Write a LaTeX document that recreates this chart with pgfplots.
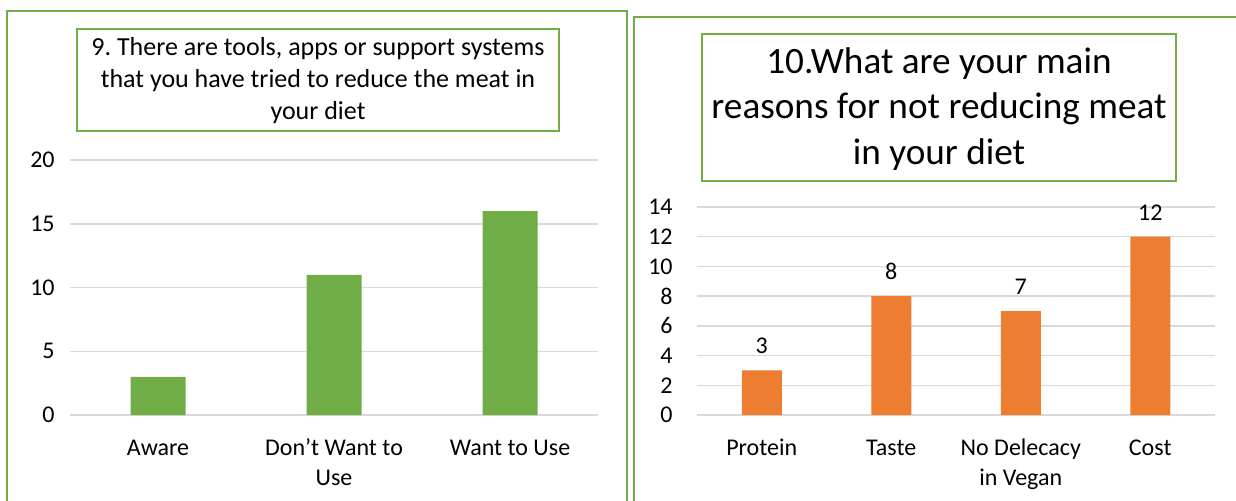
\documentclass[border=0pt]{standalone}
\usepackage{pgfplots}
\pgfplotsset{compat=1.18}
\usepackage{fontspec}
\setmainfont{Carlito}
\frenchspacing
\definecolor{cgreen}{HTML}{70AD47}
\definecolor{corange}{HTML}{ED7D31}
\definecolor{cgrid}{HTML}{D9D9D9}
\begin{document}
\begin{tikzpicture}
\useasboundingbox (0,0) rectangle (618pt,250pt);
\clip (0,0) rectangle (618pt,250pt);
% panel borders
\draw[cgreen, line width=1.2pt] (3.5pt,-10pt) rectangle (313.5pt,244.5pt);
\draw[cgreen, line width=1.2pt] (317pt,-10pt) rectangle (630pt,241.5pt);
% left chart
\begin{axis}[
  at={(35pt,42.5pt)}, anchor=south west,
  scale only axis, width=264pt, height=127.5pt,
  xmin=-0.5, xmax=2.5, ymin=0, ymax=20,
  ytick={0,5,10,15,20},
  xtick={0,1,2},
  xticklabels={\strut Aware, \strut Don’t Want to\\\strut Use, \strut Want to Use},
  axis line style={draw=none},
  ymajorgrids, major grid style={cgrid, line width=0.75pt},
  major tick length=0pt,
  /pgf/number format/assume math mode=true,
  yticklabel style={anchor=east, inner sep=0pt, xshift=-7.5pt, font=\fontsize{12}{15}\selectfont},
  xticklabel style={anchor=north, inner sep=0pt, yshift=-9.4pt, align=center, font=\fontsize{12}{15}\selectfont},
  clip=false,
]
\addplot[ybar, bar width=27.5pt, fill=cgreen, draw=none] coordinates {(0,3) (1,11) (2,16)};
\end{axis}
% right chart
\begin{axis}[
  at={(348.5pt,42.5pt)}, anchor=south west,
  scale only axis, width=259pt, height=104pt,
  xmin=-0.5, xmax=3.5, ymin=0, ymax=14,
  ytick={0,2,...,14},
  xtick={0,1,2,3},
  xticklabels={\strut Protein, \strut Taste, \strut No Delecacy\\\strut in Vegan, \strut Cost},
  axis line style={draw=none},
  ymajorgrids, major grid style={cgrid, line width=0.75pt},
  major tick length=0pt,
  /pgf/number format/assume math mode=true,
  yticklabel style={anchor=east, inner sep=0pt, xshift=-12pt, font=\fontsize{12}{15}\selectfont},
  xticklabel style={anchor=north, inner sep=0pt, yshift=-9.4pt, align=center, font=\fontsize{12}{15}\selectfont},
  nodes near coords,
  nodes near coords style={anchor=south, inner sep=0pt, yshift=8pt, font=\fontsize{12}{15}\selectfont, /pgf/number format/assume math mode=true},
  clip=false,
]
\addplot[ybar, bar width=20pt, fill=corange, draw=none] coordinates {(0,3) (1,8) (2,7) (3,12)};
\end{axis}
% titles
\draw[cgreen, line width=1.2pt] (38.5pt,235.5pt) rectangle (279.5pt,184.5pt);
\node[align=center, font=\fontsize{13}{16}\selectfont] at (159pt,209.5pt)
  {9. There are tools, apps or support systems\\that you have tried to reduce the meat in\\your diet};
\draw[cgreen, line width=1.2pt] (351pt,233pt) rectangle (588pt,159.5pt);
\node[align=center, font=\fontsize{18.6}{22.75}\selectfont] at (469.5pt,195.5pt)
  {10.What are your main\\reasons for not reducing meat\\in your diet};
\end{tikzpicture}
\end{document}
